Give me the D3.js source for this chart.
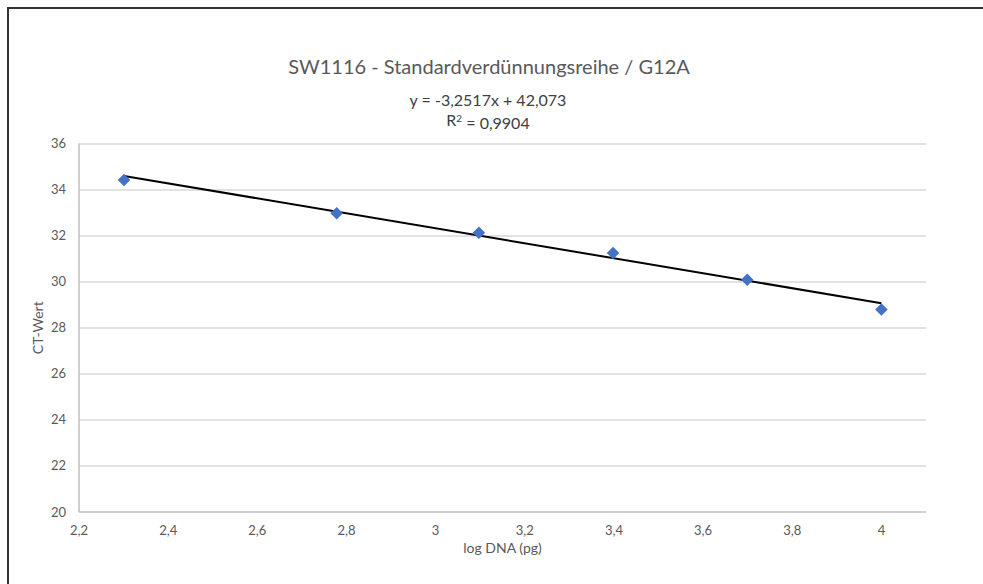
<!DOCTYPE html>
<html>
<head>
<meta charset="utf-8">
<script src="https://cdn.jsdelivr.net/npm/d3@7"></script>
<style>
  body { margin: 0; background: #fff; }
  .tickLabel { font-family: Lato, "Open Sans", sans-serif; font-size: 13px; fill: #595959; }
  .labelGraph { font-family: Lato, "Open Sans", sans-serif; font-size: 14px; fill: #595959; }
</style>
</head>
<body>
<script>

// data (log DNA in pg, CT value)
var logDna = [2.301, 2.778, 3.097, 3.398, 3.699, 4.0];
var ctWert = [34.42, 32.97, 32.12, 31.25, 30.08, 28.79];
var xTicks = [2.2, 2.4, 2.6, 2.8, 3.0, 3.2, 3.4, 3.6, 3.8, 4.0];
var yTicks = [20, 22, 24, 26, 28, 30, 32, 34, 36];
var trendSlope = -3.2517, trendIntercept = 42.073;
var titleText = "SW1116 - Standardverdünnungsreihe / G12A";
var eqText = "y = -3,2517x + 42,073";
var r2Text = "0,9904";

/************************************************************************************************************/

var width = 983, height = 584;
var margin = {left: 79, top: 143.5, right: 57, bottom: 72};
var plotW = width - margin.left - margin.right, plotH = height - margin.top - margin.bottom;

var svg = d3.select("body").append("svg").attr("width", width).attr("height", height);

var fmt = function(v){ return d3.format("~g")(+v.toFixed(1)).replace(".", ","); };

var x = d3.scaleLinear().domain([2.2, 4.1]).range([0, plotW]);
var y = d3.scaleLinear().domain([20, 36]).range([plotH, 0]);

// frame (only top and left visible, like the cropped screenshot)
svg.append("path")
  .attr("d", "M8," + height + "V8H" + width)
  .attr("fill", "none").attr("stroke", "#333").attr("stroke-width", 2);

var g = svg.append("g").attr("transform", "translate(" + [margin.left, margin.top] + ")");

// grid
g.selectAll(".grid").data(yTicks.slice(1)).enter().append("line")
  .attr("x1", 0).attr("x2", plotW)
  .attr("y1", function(d){ return Math.round(y(d)) + 0.5; })
  .attr("y2", function(d){ return Math.round(y(d)) + 0.5; })
  .attr("stroke", "#d9d9d9").attr("stroke-width", 1.3);

// axes lines
g.append("line").attr("x1", 0).attr("x2", plotW).attr("y1", plotH).attr("y2", plotH)
  .attr("stroke", "#bfbfbf").attr("stroke-width", 1.5);
g.append("line").attr("x1", 0).attr("x2", 0).attr("y1", 0).attr("y2", plotH)
  .attr("stroke", "#bfbfbf").attr("stroke-width", 1.5);

// tick labels
g.selectAll(".ylab").data(yTicks).enter().append("text")
  .attr("class", "tickLabel")
  .attr("x", -13).attr("y", function(d){ return y(d); })
  .attr("dy", "0.35em").attr("text-anchor", "end")
  .text(function(d){ return d; });

g.selectAll(".xlab").data(xTicks).enter().append("text")
  .attr("class", "tickLabel")
  .attr("x", function(d){ return x(d); }).attr("y", plotH + 18)
  .attr("dy", "0.35em").attr("text-anchor", "middle")
  .text(fmt);

// trendline
var xr = d3.extent(logDna);
g.append("line")
  .attr("x1", x(xr[0])).attr("y1", y(trendSlope * xr[0] + trendIntercept))
  .attr("x2", x(xr[1])).attr("y2", y(trendSlope * xr[1] + trendIntercept))
  .attr("stroke", "#000").attr("stroke-width", 2);

// markers
g.selectAll(".pt").data(logDna).enter().append("path")
  .attr("d", d3.symbol().type(d3.symbolDiamond2).size(100))
  .attr("transform", function(d, i){ return "translate(" + [x(d), y(ctWert[i])] + ")"; })
  .attr("fill", "#4472c4");

// title and equation
svg.append("text").attr("x", 489).attr("y", 74).attr("text-anchor", "middle")
  .style("font-family", "Lato, 'Open Sans', sans-serif").style("font-size", "20px").style("fill", "#595959")
  .text(titleText);

svg.append("text").attr("x", 488).attr("y", 106).attr("text-anchor", "middle")
  .style("font-family", "Lato, 'Open Sans', sans-serif").style("font-size", "16px").style("fill", "#404040")
  .text(eqText);

var r2 = svg.append("text").attr("x", 488).attr("y", 126).attr("text-anchor", "middle")
  .style("font-family", "Lato, 'Open Sans', sans-serif").style("font-size", "16px").style("fill", "#404040");
r2.append("tspan").text("R");
r2.append("tspan").attr("dy", "-0.45em").style("font-size", "10px").text("2");
r2.append("tspan").attr("dy", "0.45em").text(" = " + r2Text);

// axis labels
svg.append("text").attr("class", "labelGraph")
  .attr("transform", "rotate(-90)")
  .attr("x", -(margin.top + plotH / 2)).attr("y", 43)
  .attr("text-anchor", "middle")
  .text("CT-Wert");

svg.append("text").attr("class", "labelGraph")
  .attr("x", margin.left + plotW / 2).attr("y", 553)
  .attr("text-anchor", "middle")
  .text("log DNA (pg)");

</script>
</body>
</html>
